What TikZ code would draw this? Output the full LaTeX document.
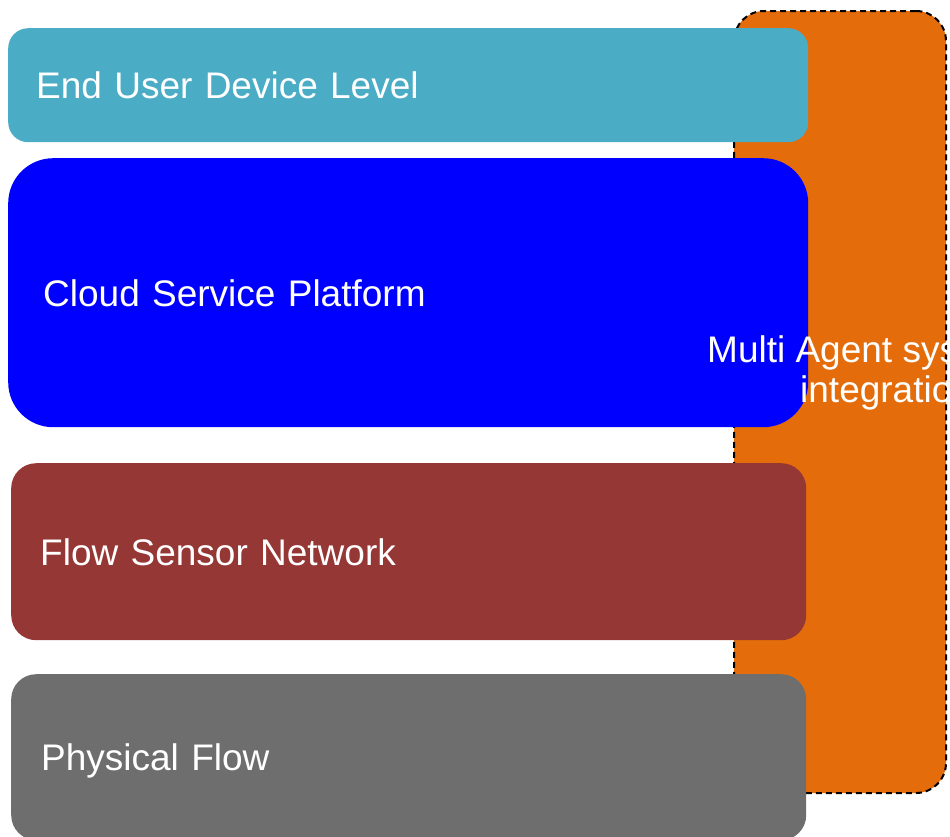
\documentclass[tikz,border=0pt]{standalone}
\usepackage{fontspec}
\setmainfont{Liberation Sans}
\definecolor{usercyan}{HTML}{4BACC6}
\definecolor{cloudblue}{HTML}{0000FF}
\definecolor{sensorred}{HTML}{953735}
\definecolor{flowgray}{HTML}{6E6E6E}
\definecolor{agentorange}{HTML}{E46C0A}
\tikzset{
  layer/.style={rectangle, anchor=north west, text=white, text depth=0pt,
    align=left, inner ysep=0pt, font=\fontsize{37}{44}\selectfont},
  agentbox/.style={rectangle, anchor=north west, fill=agentorange, draw=black,
    line width=2pt, dash pattern=on 6pt off 4pt, rounded corners=30pt},
  agenttext/.style={anchor=base west, text=white, inner sep=0pt,
    font=\fontsize{37}{44}\selectfont}
}
\begin{document}
\begin{tikzpicture}[x=1pt,y=-1pt]
\useasboundingbox (0,0) rectangle (950,836);
\clip (0,0) rectangle (950,836);
% agent layer behind the stack
\node[agentbox, minimum width=212pt, minimum height=782pt] (agent) at (733,10) {};
% the four levels
\node[layer, fill=usercyan, rounded corners=20pt, minimum width=800pt,
  minimum height=114pt, inner xsep=28pt, text width=744pt] (user) at (8,28) {End User Device Level};
\node[layer, fill=cloudblue, rounded corners=45pt, minimum width=800pt,
  minimum height=269pt, inner xsep=35pt, text width=730pt] (cloud) at (8,158) {Cloud Service Platform};
\node[layer, fill=sensorred, rounded corners=25pt, minimum width=795pt,
  minimum height=177pt, inner xsep=29pt, text width=737pt] (sensor) at (11,463) {Flow Sensor Network};
\node[layer, fill=flowgray, rounded corners=25pt, minimum width=795pt,
  minimum height=166pt, inner xsep=30pt, text width=735pt] (physical) at (11,674) {Physical Flow};
% label of the agent layer
\node[agenttext] (agentA) at (707,362) {Multi Agent system};
\node[agenttext] (agentB) at (800,402) {integration};
\end{tikzpicture}
\end{document}
